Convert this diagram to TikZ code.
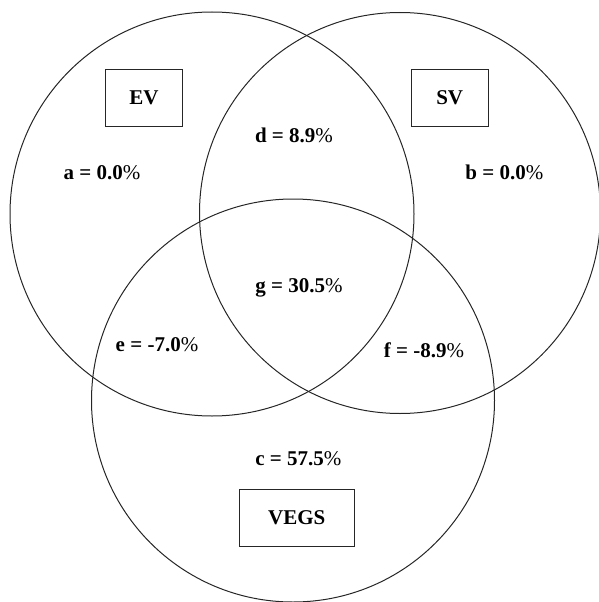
\documentclass[tikz,border=0pt]{standalone}
\usepackage{fontspec}
\setmainfont{Liberation Serif}
\begin{document}
\begin{tikzpicture}[x=1pt,y=-1pt,
  ring/.style={draw=black!85, line width=1pt},
  setbox/.style={draw=black!85, line width=1pt, minimum height=57.4pt, inner sep=0pt, font=\fontsize{21}{25}\selectfont\bfseries},
  val/.style={inner sep=0pt, font=\fontsize{21}{25}\selectfont\bfseries}]
\useasboundingbox (0,0) rectangle (599,602);
\draw[ring] (212,214) circle[radius=202pt];
\draw[ring] (400,213) circle[radius=200.5pt];
\draw[ring] (293,400.5) circle[radius=201.5pt];
\node[setbox, minimum width=76.6pt] (ev) at (144,98) {EV};
\node[setbox, minimum width=76.6pt] (sv) at (449.7,98) {SV};
\node[setbox, minimum width=115pt] (vegs) at (296.8,518) {VEGS};
\node[val] (a) at (102,172.7) {a = 0.0\textmd{\%}};
\node[val] (b) at (504.3,172.7) {b = 0.0\textmd{\%}};
\node[val] (d) at (294,135) {d = 8.9\textmd{\%}};
\node[val] (g) at (299,287.7) {g = 30.5\textmd{\%}};
\node[val] (e) at (157,344.3) {e = -7.0\textmd{\%}};
\node[val] (f) at (424,350) {f = -8.9\textmd{\%}};
\node[val] (c) at (298.3,459) {c = 57.5\textmd{\%}};
\end{tikzpicture}
\end{document}
